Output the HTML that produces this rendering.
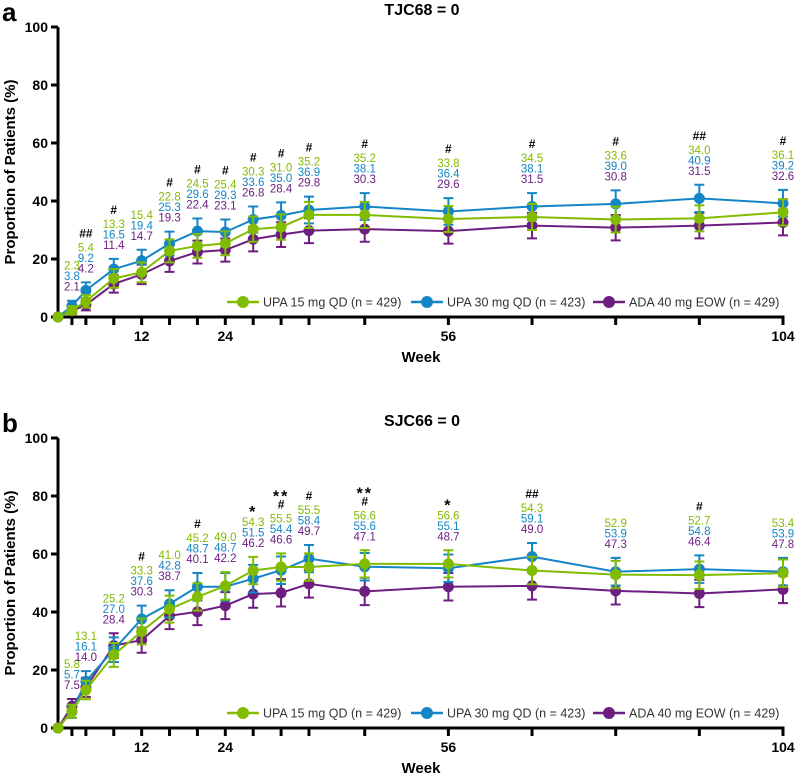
<!DOCTYPE html>
<html><head><meta charset="utf-8"><style>
body{margin:0;background:#fff}
svg{display:block;font-family:"Liberation Sans",Arial,sans-serif}
</style></head><body>
<svg id="chart" width="797" height="776" viewBox="0 0 797 776" xmlns="http://www.w3.org/2000/svg"></svg>
<script>
const weeks = [0,2,4,8,12,16,20,24,28,32,36,44,56,68,80,92,104];
const tickLabelWeeks = [12,24,56,104];
const yTicks = [0,20,40,60,80,100];
const seriesNames = ["ADA 40 mg EOW (n = 429)","UPA 30 mg QD (n = 423)","UPA 15 mg QD (n = 429)"];
const seriesN = [429,423,429];
const aUpa15 = [0,2.3,5.4,13.3,15.4,22.8,24.5,25.4,30.3,31.0,35.2,35.2,33.8,34.5,33.6,34.0,36.1];
const aUpa30 = [0,3.8,9.2,16.5,19.4,25.3,29.6,29.3,33.6,35.0,36.9,38.1,36.4,38.1,39.0,40.9,39.2];
const aAda   = [0,2.1,4.2,11.4,14.7,19.3,22.4,23.1,26.8,28.4,29.8,30.3,29.6,31.5,30.8,31.5,32.6];
const aSig   = ["","","##","#","","#","#","#","#","#","#","#","#","#","#","##","#"];
const aSig2  = ["","","","","","","","","","","","","","","","",""];
const bUpa15 = [0,5.8,13.1,25.2,33.3,41.0,45.2,49.0,54.3,55.5,55.5,56.6,56.6,54.3,52.9,52.7,53.4];
const bUpa30 = [0,5.7,16.1,27.0,37.6,42.8,48.7,48.7,51.5,54.4,58.4,55.6,55.1,59.1,53.9,54.8,53.9];
const bAda   = [0,7.5,14.0,28.4,30.3,38.7,40.1,42.2,46.2,46.6,49.7,47.1,48.7,49.0,47.3,46.4,47.8];
const bSig   = ["","","","","#","","#","","","#","#","#","","##","","#",""];
const bSig2  = ["","","","","","","","","*","**","","**","*","","","",""];

const NS="http://www.w3.org/2000/svg";
const svg=document.getElementById('chart');
const colors=["#6d1f80","#1486c6","#82bc00"];
function mk(tag,attrs,parent){const e=document.createElementNS(NS,tag);for(const k in attrs)e.setAttribute(k,attrs[k]);(parent||svg).appendChild(e);return e;}
const X0=58,X1=783;
function xs(w){return X0+(X1-X0)*w/104;}

function panel(letter,title,top,series,sig,sig2){
  const y0=top+290, ys=v=>y0-2.9*v;
  const g=mk('g',{});
  
  
  let t=mk('text',{x:2,y:top-6,'font-size':26,'font-weight':'bold'},g);t.textContent=letter;
  
  t=mk('text',{x:422,y:top-12,'font-size':16,'font-weight':'bold','text-anchor':'middle'},g);t.textContent=title;
  
  // axes
  let ax=mk('path',{d:`M${X0} ${ys(100)} V${y0} H${X1+1.5}`,stroke:'#000','stroke-width':3,fill:'none'},g);
  
  yTicks.forEach(v=>{
    mk('line',{x1:X0-7,x2:X0,y1:ys(v),y2:ys(v),stroke:'#000','stroke-width':3},g);
    const tl=mk('text',{x:X0-10,y:ys(v)+5,'font-size':14,'font-weight':'bold','text-anchor':'end'},g);tl.textContent=v;
    
  });
  weeks.forEach(w=>{ if(w>0) mk('line',{x1:xs(w),x2:xs(w),y1:y0,y2:y0+8,stroke:'#000','stroke-width':3},g);});
  tickLabelWeeks.forEach(w=>{
    const tl=mk('text',{x:xs(w),y:y0+24,'font-size':14,'font-weight':'bold','text-anchor':'middle'},g);tl.textContent=w;
    
  });
  t=mk('text',{x:421,y:y0+45,'font-size':15,'font-weight':'bold','text-anchor':'middle'},g);t.textContent='Week';
  
  t=mk('text',{x:0,y:0,'font-size':15,'font-weight':'bold','text-anchor':'middle',transform:`translate(15 ${ys(50)}) rotate(-90)`},g);t.textContent='Proportion of Patients (%)';
  
  // legend
  const lx=[243,427,609], order=[2,1,0];
  order.forEach((si,i)=>{
    const ly=y0-15;
    mk('line',{x1:lx[i]-16,x2:lx[i]+16,y1:ly,y2:ly,stroke:colors[si],'stroke-width':2.5},g);
    mk('circle',{cx:lx[i],cy:ly,r:6,fill:colors[si]},g);
    const lt=mk('text',{x:lx[i]+20,y:ly+4.5,'font-size':12.5,fill:'#333'},g);lt.textContent=seriesNames[si];
    
  });
  const ci=(v,n)=>1.96*Math.sqrt((v/100)*(1-v/100)/n)*100;
  // series
  series.forEach((vals,si)=>{
    const sg=mk('g',{},g);
    
    
    mk('polyline',{points:vals.map((v,i)=>xs(weeks[i])+','+ys(v)).join(' '),fill:'none',stroke:colors[si],'stroke-width':2},sg);
    vals.forEach((v,i)=>{
      const x=xs(weeks[i]);
      if(i>0){const e=ci(v,seriesN[si]);
        mk('path',{d:`M${x} ${ys(v-e)}V${ys(v+e)}M${x-5} ${ys(v-e)}H${x+5}M${x-5} ${ys(v+e)}H${x+5}`,stroke:colors[si],'stroke-width':2,fill:'none'},sg);}
      const c=mk('circle',{cx:x,cy:ys(v),r:5.5,fill:colors[si]},sg);
      
    });
  });
  // value labels
  weeks.forEach((w,i)=>{
    if(i===0)return;
    let top=0;series.forEach((vals,si)=>{top=Math.max(top,vals[i]+ci(vals[i],seriesN[si]));});
    const base=ys(top)-14, x=xs(w);
    [2,1,0].forEach((si,k)=>{
      const lt=mk('text',{x:x,y:base-(2-k)*10.5+4,'font-size':11.5,'text-anchor':'middle',fill:colors[si]},g);
      lt.textContent=series[si][i].toFixed(1);
      
    });
    const sy=base-2*10.5-14;
    if(sig[i]){const st=mk('text',{x:x,y:sy+4,'font-size':12,'font-weight':'bold','text-anchor':'middle'},g);st.textContent=sig[i];
      }
    if(sig2[i]){const st=mk('text',{x:x,y:(sig[i]?sy-12:sy)+9,'font-size':16,'font-weight':'bold','text-anchor':'middle','letter-spacing':'2'},g);st.textContent=sig2[i];
      }
  });
}
panel('a','TJC68 = 0',27,[aAda,aUpa30,aUpa15],aSig,aSig2);
panel('b','SJC66 = 0',438,[bAda,bUpa30,bUpa15],bSig,bSig2);
</script>
</body></html>
